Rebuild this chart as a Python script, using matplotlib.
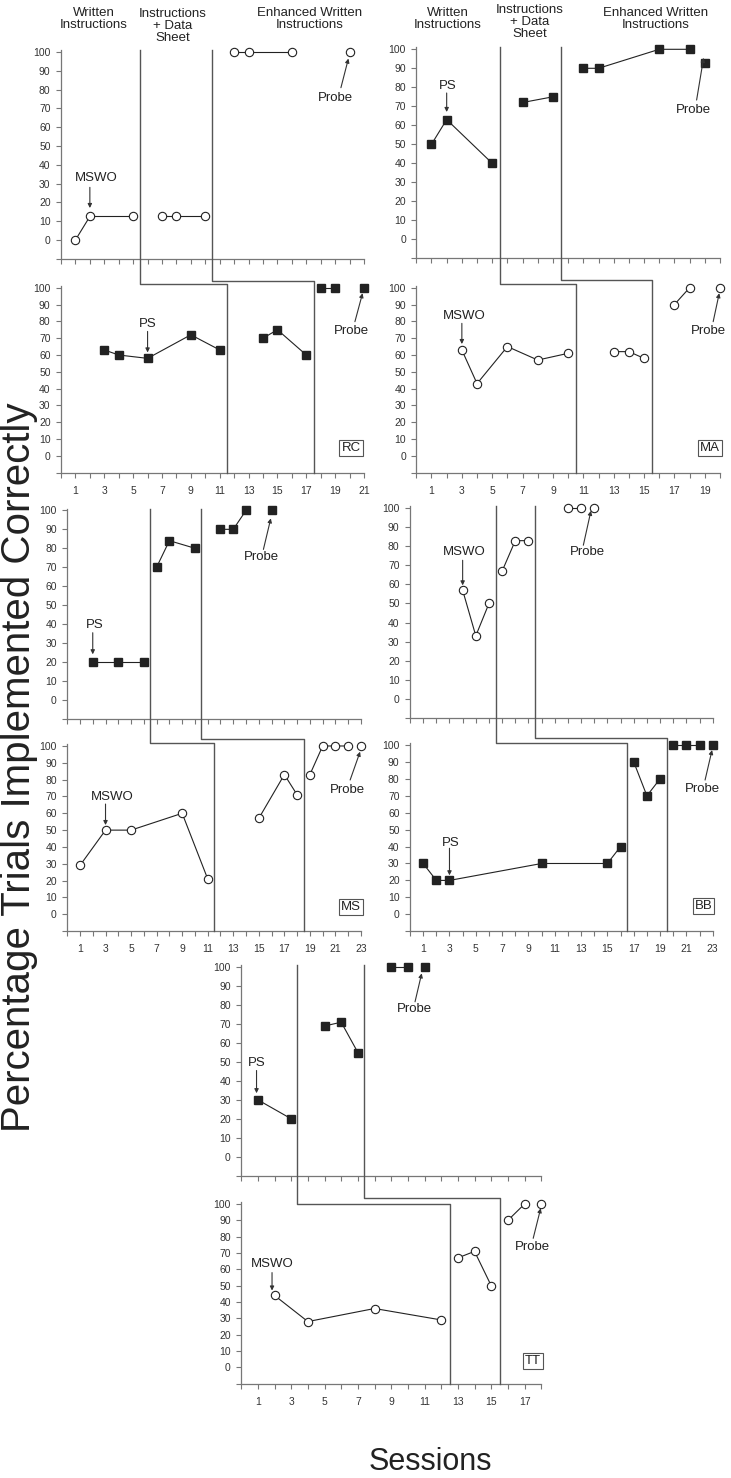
import matplotlib
matplotlib.use('Agg')
import matplotlib.pyplot as plt
from matplotlib.lines import Line2D

plt.rcParams['font.family'] = ['Liberation Sans', 'DejaVu Sans']

# data: each list holds connected runs of sessions, last run is the probe
rc_mswo_x = [[1, 2, 5], [7, 8, 10], [12, 13, 16], [20]]
rc_mswo_y = [[0, 12.5, 12.5], [12.5, 12.5, 12.5], [100, 100, 100], [100]]
rc_ps_x = [[3, 4, 6, 9, 11], [14, 15, 17], [18, 19], [21]]
rc_ps_y = [[63, 60, 58, 72, 63], [70, 75, 60], [100, 100], [100]]

ma_ps_x = [[1, 2, 5], [7, 9], [11, 12, 16, 18], [19]]
ma_ps_y = [[50, 63, 40], [72, 75], [90, 90, 100, 100], [93]]
ma_mswo_x = [[3, 4, 6, 8, 10], [13, 14, 15], [17, 18], [20]]
ma_mswo_y = [[63, 43, 65, 57, 61], [62, 62, 58], [90, 100], [100]]

ms_ps_x = [[2, 4, 6], [7, 8, 10], [12, 13, 14], [16]]
ms_ps_y = [[20, 20, 20], [70, 84, 80], [90, 90, 100], [100]]
ms_mswo_x = [[1, 3, 5, 9, 11], [15, 17, 18], [19, 20, 21, 22], [23]]
ms_mswo_y = [[29, 50, 50, 60, 21], [57, 83, 71], [83, 100, 100, 100], [100]]

bb_mswo_x = [[4, 5, 6], [7, 8, 9], [12, 13], [14]]
bb_mswo_y = [[57, 33, 50], [67, 83, 83], [100, 100], [100]]
bb_ps_x = [[1, 2, 3, 10, 15, 16], [17, 18, 19], [20, 21, 22], [23]]
bb_ps_y = [[30, 20, 20, 30, 30, 40], [90, 70, 80], [100, 100, 100], [100]]

tt_ps_x = [[1, 3], [5, 6, 7], [9, 10], [11]]
tt_ps_y = [[30, 20], [69, 71, 55], [100, 100], [100]]
tt_mswo_x = [[2, 4, 8, 12], [13, 14, 15], [16, 17], [18]]
tt_mswo_y = [[44, 28, 36, 29], [67, 71, 50], [90, 100], [100]]

# phase change lines (top panel session, bottom panel session)
rc_phase_top = [5.5, 10.5]
rc_phase_bot = [11.5, 17.5]
ma_phase_top = [5.5, 9.5]
ma_phase_bot = [10.5, 15.5]
ms_phase_top = [6.5, 10.5]
ms_phase_bot = [11.5, 18.5]
bb_phase_top = [6.5, 9.5]
bb_phase_bot = [16.5, 19.5]
tt_phase_top = [3.35, 7.35]
tt_phase_bot = [12.5, 15.5]

W, H = 731, 1478
fig = plt.figure(figsize=(W / 100, H / 100), dpi=100)

DARK = '#222222'
AXC = '#777777'


def add_ax(left, right, top, bottom):
    return fig.add_axes([left / W, 1 - bottom / H, (right - left) / W, (bottom - top) / H])


def style(ax, xmax, labels):
    ax.set_xlim(0, xmax)
    ax.set_ylim(-10, 101)
    ax.patch.set_visible(False)
    for s in ['top', 'right']:
        ax.spines[s].set_visible(False)
    for s in ['left', 'bottom']:
        ax.spines[s].set_color(AXC)
        ax.spines[s].set_linewidth(0.9)
    ax.set_yticks(range(-10, 101, 10))
    ax.set_yticklabels([''] + [str(v) for v in range(0, 101, 10)])
    ax.set_xticks(range(0, xmax + 1))
    ax.set_xticklabels([str(v) if (labels and v % 2 == 1) else '' for v in range(0, xmax + 1)])
    ax.tick_params(direction='out', length=3.5, width=0.8, color=AXC,
                   labelsize=7.5, labelcolor='#333333')
    ax.tick_params(axis='x', pad=6)
    ax.tick_params(axis='y', pad=4)


def draw(ax, xs, ys, filled):
    for gx, gy in zip(xs, ys):
        if filled:
            ax.plot(gx, gy, color=DARK, lw=0.8, marker='s', ms=5.5, mfc=DARK, mec=DARK,
                    clip_on=False, zorder=3)
        else:
            ax.plot(gx, gy, color=DARK, lw=0.8, marker='o', ms=6, mfc='white', mec=DARK,
                    mew=0.8, clip_on=False, zorder=3)


def note(ax, label, txy, tail, tip):
    ax.text(txy[0], txy[1], label, ha='center', va='center', fontsize=9.5, color='#222222')
    ax.annotate('', xy=tip, xytext=tail, annotation_clip=False,
                arrowprops=dict(arrowstyle='-|>', color='#333333', lw=0.8,
                                mutation_scale=6, shrinkA=0, shrinkB=0))


def tag(ax, name, x, y):
    ax.text(x, y, name, ha='center', va='center', fontsize=9.5, color='#222222',
            bbox=dict(boxstyle='square,pad=0.15', fc='white', ec='#555555', lw=0.8))


def fig_pt(ax, x, y):
    return fig.transFigure.inverted().transform(ax.transData.transform((x, y)))


def stairs(ax_top, ax_bot, tops, bots, levels):
    for xt, xb, yh in zip(tops, bots, levels):
        p = [fig_pt(ax_top, xt, 101), fig_pt(ax_bot, xt, yh),
             fig_pt(ax_bot, xb, yh), fig_pt(ax_bot, xb, -10)]
        fig.add_artist(Line2D([q[0] for q in p], [q[1] for q in p],
                              transform=fig.transFigure, color='#555555', lw=1.0))


# pair 1 left (RC)
a1 = add_ax(61, 364, 50.1, 258.8)
b1 = add_ax(61, 364, 286.0, 472.8)
style(a1, 21, False)
style(b1, 21, True)
draw(a1, rc_mswo_x, rc_mswo_y, False)
draw(b1, rc_ps_x, rc_ps_y, True)
note(a1, 'MSWO', (2.41, 33), (2.0, 28), (2.0, 17))
note(a1, 'Probe', (19.0, 75.5), (19.4, 81), (19.92, 96.5))
note(b1, 'PS', (6.0, 78.3), (6.0, 74), (6.0, 61.5))
note(b1, 'Probe', (20.15, 74.3), (20.37, 79.8), (20.9, 96.7))
tag(b1, 'RC', 20.1, 4.9)
stairs(a1, b1, rc_phase_top, rc_phase_bot, [102, 104.2])

# pair 1 right (MA)
a2 = add_ax(416.3, 720, 47.4, 258.3)
b2 = add_ax(416.3, 720, 286.0, 472.8)
style(a2, 20, False)
style(b2, 20, True)
draw(a2, ma_ps_x, ma_ps_y, True)
draw(b2, ma_mswo_x, ma_mswo_y, False)
note(a2, 'PS', (2.09, 80.8), (2.0, 77), (2.0, 67))
note(a2, 'Probe', (18.28, 68), (18.46, 73.3), (18.92, 95.5))
note(b2, 'MSWO', (3.14, 83.4), (3.0, 78.8), (3.0, 66.5))
note(b2, 'Probe', (19.27, 74.3), (19.55, 79.8), (19.95, 96.7))
tag(b2, 'MA', 19.33, 4.75)
stairs(a2, b2, ma_phase_top, ma_phase_bot, [102, 104.6])

# pair 2 left (MS)
a3 = add_ax(67.2, 361, 508.5, 718.7)
b3 = add_ax(67.2, 361, 744.3, 931.1)
style(a3, 23, False)
style(b3, 23, True)
draw(a3, ms_ps_x, ms_ps_y, True)
draw(b3, ms_mswo_x, ms_mswo_y, False)
note(a3, 'PS', (2.18, 39.3), (2.0, 35.4), (2.0, 24))
note(a3, 'Probe', (15.23, 75.5), (15.36, 79.4), (15.94, 95.8))
note(b3, 'MSWO', (3.56, 69.9), (3.0, 65.5), (3.0, 53))
note(b3, 'Probe', (21.97, 73.9), (22.15, 79.8), (22.93, 96.6))
tag(b3, 'MS', 22.2, 4.5)
stairs(a3, b3, ms_phase_top, ms_phase_bot, [102, 104.2])

# pair 2 right (BB)
a4 = add_ax(410, 712.7, 506.4, 717.7)
b4 = add_ax(410, 712.7, 743.3, 931.2)
style(a4, 23, False)
style(b4, 23, True)
draw(a4, bb_mswo_x, bb_mswo_y, False)
draw(b4, bb_ps_x, bb_ps_y, True)
note(a4, 'MSWO', (4.13, 76.8), (4.0, 72.7), (4.0, 59.5))
note(a4, 'Probe', (13.45, 77.1), (13.17, 80.6), (13.75, 98.7))
note(b4, 'PS', (3.09, 42.3), (3.0, 39), (3.0, 23))
note(b4, 'Probe', (22.24, 74), (22.42, 79.3), (22.95, 97))
tag(b4, 'BB', 22.29, 4.9)
stairs(a4, b4, bb_phase_top, bb_phase_bot, [101.2, 104.2])

# pair 3 (TT)
a5 = add_ax(241.2, 541.2, 965.4, 1175.6)
b5 = add_ax(241.2, 541.2, 1202.4, 1383.6)
style(a5, 18, False)
style(b5, 18, True)
draw(a5, tt_ps_x, tt_ps_y, True)
draw(b5, tt_mswo_x, tt_mswo_y, False)
note(a5, 'PS', (0.93, 49.3), (0.92, 45.5), (0.92, 33.5))
note(a5, 'Probe', (10.37, 77.8), (10.43, 81.8), (10.83, 96.8))
note(b5, 'MSWO', (1.87, 63.3), (1.85, 58), (1.85, 47))
note(b5, 'Probe', (17.46, 73.5), (17.52, 79), (17.97, 97.4))
tag(b5, 'TT', 17.52, 3.9)
stairs(a5, b5, tt_phase_top, tt_phase_bot, [100.2, 103.5])

# phase headers
headers = [('Written\nInstructions', 94, 18.5), ('Instructions\n+ Data\nSheet', 173, 26),
           ('Enhanced Written\nInstructions', 310, 18.5),
           ('Written\nInstructions', 447.7, 18.5), ('Instructions\n+ Data\nSheet', 530, 22),
           ('Enhanced Written\nInstructions', 656, 18.5)]
for txt, x, y in headers:
    fig.text(x / W, 1 - y / H, txt, ha='center', va='center', fontsize=9.5,
             color='#222222', linespacing=1.0)

fig.text(19.3 / W, 1 - 767 / H, 'Percentage Trials Implemented Correctly', rotation=90,
         ha='center', va='center', fontsize=29, color='#222222')
fig.text(430 / W, 1 - 1477 / H, 'Sessions', ha='center', va='bottom',
         fontsize=22, color='#222222')

fig.savefig('out.png', dpi=100)
